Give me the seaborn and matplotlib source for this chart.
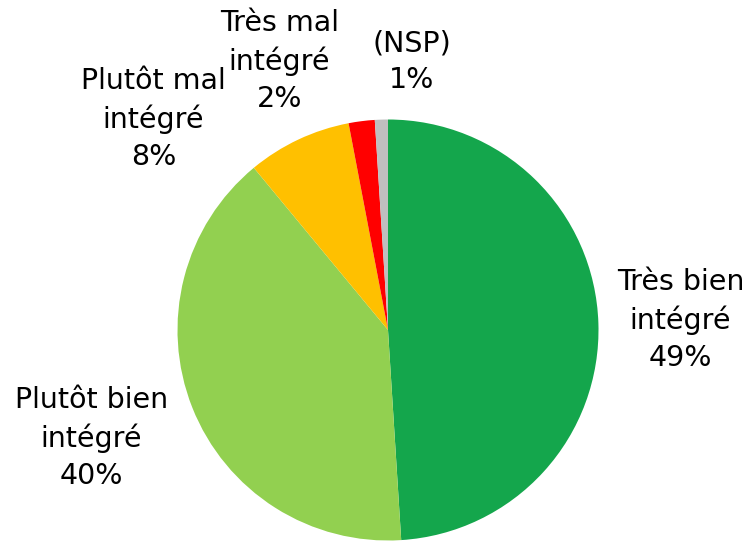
import matplotlib
matplotlib.use('Agg')
import matplotlib.pyplot as plt
import seaborn as sns
import numpy as np

# Données
categories = ['Très bien\nintégré', 'Plutôt bien\nintégré', 'Plutôt mal\nintégré',
              'Très mal\nintégré', '(NSP)']
valeurs = [49, 40, 8, 2, 1]
couleurs = ['#14A64C', '#92D050', '#FFC000', '#FF0000', '#BFBFBF']

# Position des étiquettes (angle en degrés, distance en rayons)
label_angles = [2, 200, 138, 112, 85]
label_dist = [1.39, 1.50, 1.50, 1.38, 1.28]

sns.set_theme(style='white')
plt.rcParams['font.family'] = ['DejaVu Sans']

fig = plt.figure(figsize=(7.51, 5.41), dpi=100)
W, H = 751, 541
cx, cy, r = 388, 330, 210.5
ax = fig.add_axes([(cx - r) / W, (H - cy - r) / H, 2 * r / W, 2 * r / H])

wedges, _ = ax.pie(valeurs, colors=couleurs, startangle=90, counterclock=False,
                   radius=1, wedgeprops=dict(linewidth=0))
ax.set_xlim(-1, 1)
ax.set_ylim(-1, 1)
ax.set_aspect('equal')
ax.axis('off')

for cat, val, ang, d in zip(categories, valeurs, label_angles, label_dist):
    t = np.deg2rad(ang)
    ax.text(d * np.cos(t), d * np.sin(t), f'{cat}\n{val}%', ha='center', va='center',
            fontsize=20.5, color='black', linespacing=1.4, clip_on=False)

fig.savefig('out.png', dpi=100)
